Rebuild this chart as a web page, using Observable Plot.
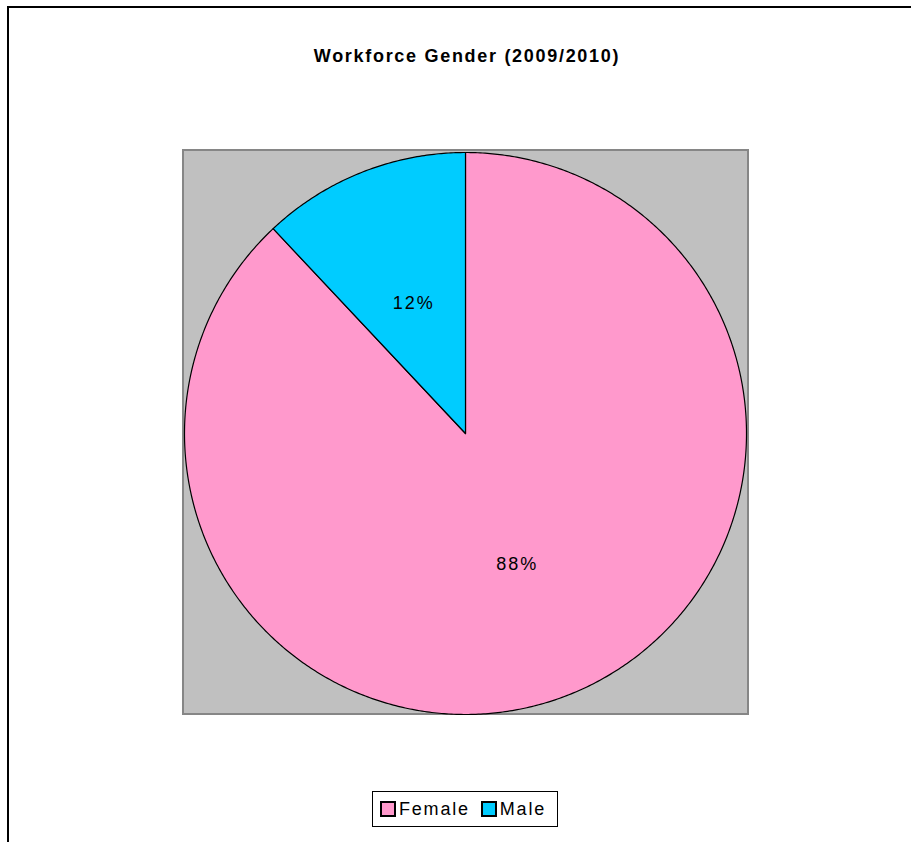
<!DOCTYPE html>
<html>
<head>
<meta charset="utf-8">
<script src="https://cdn.jsdelivr.net/npm/d3@7"></script>
<script src="https://cdn.jsdelivr.net/npm/@observablehq/plot@0.6"></script>
<style>
  html, body { margin: 0; padding: 0; background: #fff; width: 911px; height: 842px; overflow: hidden; }
  body { position: relative; font-family: "Liberation Sans", Arial, sans-serif; }
  #frame { position: absolute; left: 7px; top: 6px; width: 1200px; height: 1200px; border: 2px solid #000; box-sizing: border-box; pointer-events: none; }
  #chart { position: absolute; left: 0; top: 0; }
  #chart text { letter-spacing: 2px; }
  #title { position: absolute; left: 0; width: 934px; top: 46px; text-align: center; font-weight: bold; font-size: 18px; letter-spacing: 1.7px; color: #000; }
  #legend { position: absolute; left: 372px; top: 791px; width: 186px; height: 36px; border: 1px solid #000; box-sizing: border-box; background: #fff; display: flex; align-items: center; padding-left: 7px; font-size: 18px; letter-spacing: 1.8px; }
  .sw { width: 16px; height: 16px; border: 2px solid #000; box-sizing: border-box; margin-right: 3px; }
  .item { display: flex; align-items: center; margin-right: 11px; }
</style>
</head>
<body>
<div id="chart"></div>
<div id="title"></div>
<div id="legend"></div>
<div id="frame"></div>
<script>
const titleText = "Workforce Gender (2009/2010)";
const categories = ["Female", "Male"];
const values = [88, 12];
const colors = ["#ff99cc", "#00ccff"];

document.getElementById("title").textContent = titleText;

const pie = d3.pie().sort(null).value(d => d.value);
const slices = pie(categories.map((name, i) => ({name, value: values[i], color: colors[i]})));

// Arc outline geometry (unit circle, angle measured clockwise from 12 o'clock)
function polygon(s) {
  const pts = [{x: 0, y: 0}];
  const n = Math.max(2, Math.ceil((s.endAngle - s.startAngle) / (Math.PI / 360)));
  for (let k = 0; k <= n; k++) {
    const a = s.startAngle + (s.endAngle - s.startAngle) * k / n;
    pts.push({x: Math.sin(a), y: Math.cos(a)});
  }
  pts.push({x: 0, y: 0});
  return pts;
}

const labels = slices.map(s => {
  const m = (s.startAngle + s.endAngle) / 2;
  return {x: 0.5 * Math.sin(m), y: 0.5 * Math.cos(m), text: s.data.value + "%"};
});

const chart = Plot.plot({
  width: 911,
  height: 842,
  margin: 0,
  style: {background: "transparent"},
  x: {domain: [-1, 1], range: [184, 746], axis: null},
  y: {domain: [-1, 1], range: [714, 152], axis: null},
  marks: [
    Plot.rect([0], {x1: -1.0036, x2: 1.0071, y1: -1.0, y2: 1.0071, fill: "#c0c0c0", stroke: "#868686", strokeWidth: 2}),
    ...slices.map(s => Plot.line(polygon(s), {x: "x", y: "y", fill: s.data.color, stroke: "#000", strokeWidth: 1.2, strokeLinejoin: "round", curve: "linear"})),
    Plot.text(labels, {x: "x", y: "y", text: "text", fontSize: 18, fill: "#000", fontFamily: "Liberation Sans, Arial, sans-serif"})
  ]
});
document.getElementById("chart").appendChild(chart);

const legend = document.getElementById("legend");
categories.forEach((c, i) => {
  const item = document.createElement("div");
  item.className = "item";
  const sw = document.createElement("div");
  sw.className = "sw";
  sw.style.background = colors[i];
  const t = document.createElement("span");
  t.textContent = c;
  item.appendChild(sw);
  item.appendChild(t);
  legend.appendChild(item);
});
</script>
</body>
</html>
